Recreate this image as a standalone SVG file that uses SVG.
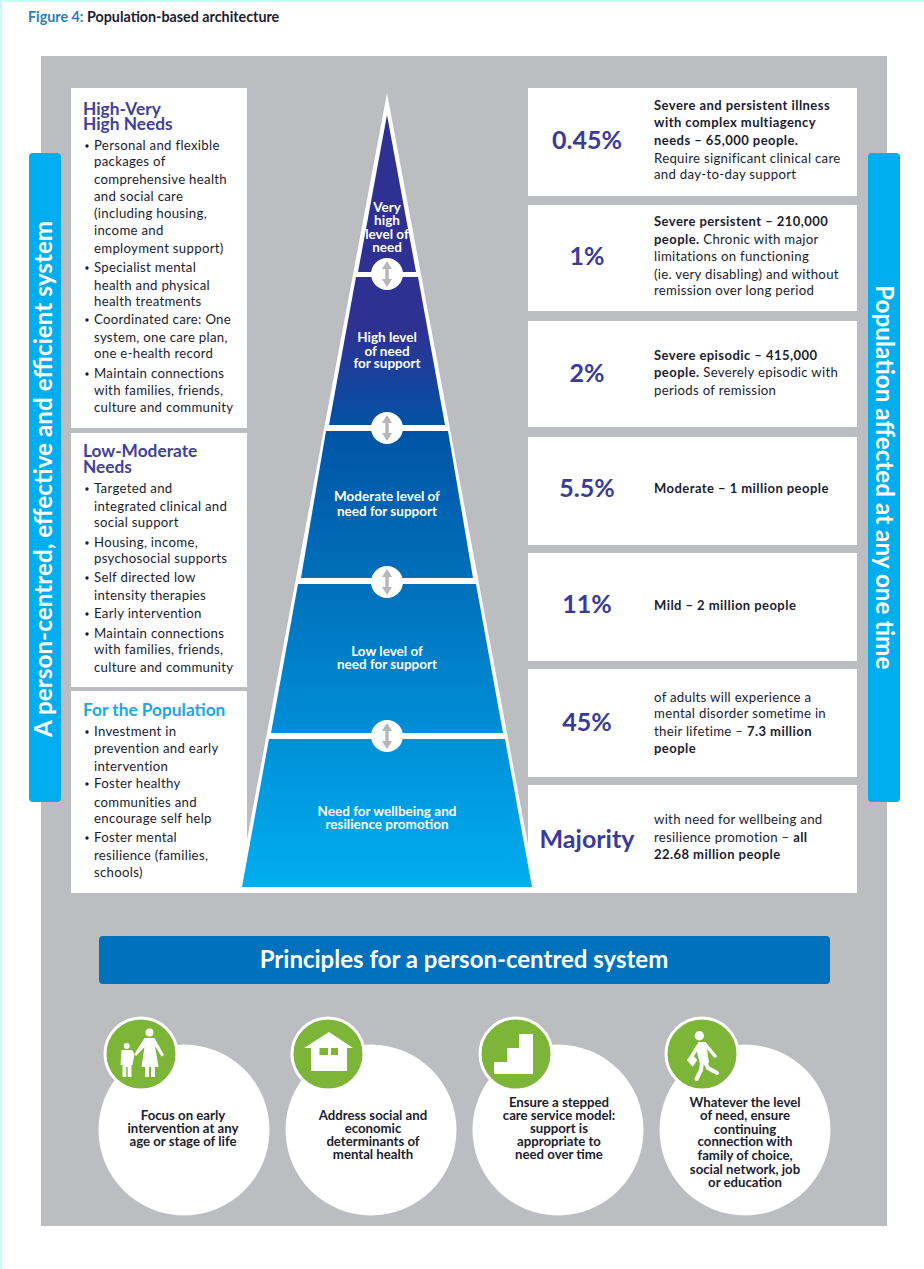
<svg xmlns="http://www.w3.org/2000/svg" width="924" height="1269" viewBox="0 0 924 1269">
<style>
text{font-family:Lato,"Open Sans","Liberation Sans",sans-serif;fill:#1c1c30}
.t{font-size:13.200px;letter-spacing:.3px}
.m{font-size:13px;font-weight:700;letter-spacing:.45px}
.h{font-size:17.300px;fill:#3f3fa0;font-weight:700}
.p{font-size:25px;font-weight:700;fill:#3a3a9c;text-anchor:middle}
.w{fill:#fff;font-size:13.500px;font-weight:700;text-anchor:middle}
.c{font-size:13.200px;font-weight:700;text-anchor:middle}
.bar{fill:#00aeef}
.bt{font-size:24.300px;font-weight:700;fill:#fff}
.card{fill:#fff}
.g{fill:#7db538;stroke:#fff;stroke-width:3}
.i{fill:#fff}
.l{stroke:#fff;stroke-linecap:round;stroke-linejoin:round;fill:none}
.dot{fill:#1c1c30}
.ring{fill:#fff}
.ar{fill:#b5b6b9}
</style>
<defs>
<linearGradient id="pyr" gradientUnits="userSpaceOnUse" x1="0" y1="115" x2="0" y2="887">
<stop offset="0.278" stop-color="#2e3192"/>
<stop offset="0.408" stop-color="#0054a6"/>
<stop offset="0.615" stop-color="#0071bc"/>
<stop offset="0.81" stop-color="#0090d8"/>
<stop offset="1" stop-color="#00aeef"/>
</linearGradient>
<path id="dbl" class="ar" d="M0-13 5-5H1.700V5H5L0 13-5 5H-1.700V-5H-5Z"/>
</defs>
<rect x="0" y="0" width="924" height="1269" fill="#fff"/>
<rect x="0" y="0" width="924" height="2" fill="#c8fafa"/>
<rect x="0" y="0" width="2" height="1269" fill="#c8fafa"/>
<text x="28" y="22" style="font-size:14.300px;font-weight:700"><tspan fill="#2a7db5">Figure 4:</tspan> Population-based architecture</text>
<rect x="41" y="56" width="846" height="1170" fill="#bcbdc0"/>

<g id="left-bar"><rect class="bar" x="29" y="153" width="32" height="649" rx="4"/>
<text class="bt" transform="translate(52,737) rotate(-90)">A person-centred, effective and efficient system</text></g>
<g id="right-bar"><rect class="bar" x="868" y="153" width="32" height="649" rx="4"/>
<text class="bt" transform="translate(876,285) rotate(90)">Population affected at any one time</text></g>

<g id="high-needs"><rect class="card" x="71" y="88" width="176" height="340"/>
<text class="h"><tspan x="83" y="115">High-Very</tspan><tspan x="83" y="130">High Needs</tspan></text>
<circle class="dot" cx="87" cy="146" r="1.700"/><circle class="dot" cx="87" cy="268" r="1.700"/><circle class="dot" cx="87" cy="320" r="1.700"/><circle class="dot" cx="87" cy="374" r="1.700"/>
<text class="t"><tspan x="94" y="149.500">Personal and flexible</tspan><tspan x="94" y="166">packages of</tspan><tspan x="94" y="184">comprehensive health</tspan><tspan x="94" y="200.500">and social care</tspan><tspan x="94" y="218">(including housing,</tspan><tspan x="94" y="235">income and</tspan><tspan x="94" y="252.500">employment support)</tspan><tspan x="94" y="272">Specialist mental</tspan><tspan x="94" y="290">health and physical</tspan><tspan x="94" y="306">health treatments</tspan><tspan x="94" y="324">Coordinated care: One</tspan><tspan x="94" y="342">system, one care plan,</tspan><tspan x="94" y="358">one e-health record</tspan><tspan x="94" y="378">Maintain connections</tspan><tspan x="94" y="395">with families, friends,</tspan><tspan x="94" y="412">culture and community</tspan></text></g>

<g id="low-moderate-needs"><rect class="card" x="71" y="433" width="176" height="254"/>
<text class="h"><tspan x="83" y="457">Low-Moderate</tspan><tspan x="83" y="473">Needs</tspan></text>
<circle class="dot" cx="87" cy="489" r="1.700"/><circle class="dot" cx="87" cy="543" r="1.700"/><circle class="dot" cx="87" cy="578" r="1.700"/><circle class="dot" cx="87" cy="614" r="1.700"/><circle class="dot" cx="87" cy="634" r="1.700"/>
<text class="t"><tspan x="94" y="493">Targeted and</tspan><tspan x="94" y="511">integrated clinical and</tspan><tspan x="94" y="527">social support</tspan><tspan x="94" y="547">Housing, income,</tspan><tspan x="94" y="563">psychosocial supports</tspan><tspan x="94" y="582">Self directed low</tspan><tspan x="94" y="600">intensity therapies</tspan><tspan x="94" y="618">Early intervention</tspan><tspan x="94" y="638">Maintain connections</tspan><tspan x="94" y="654">with families, friends,</tspan><tspan x="94" y="672">culture and community</tspan></text></g>

<g id="for-the-population"><rect class="card" x="71" y="691" width="176" height="202"/>
<text class="h" x="83" y="716" style="fill:#1ea5e8">For the Population</text>
<circle class="dot" cx="87" cy="732" r="1.700"/><circle class="dot" cx="87" cy="784" r="1.700"/><circle class="dot" cx="87" cy="838" r="1.700"/>
<text class="t"><tspan x="94" y="736">Investment in</tspan><tspan x="94" y="753">prevention and early</tspan><tspan x="94" y="771">intervention</tspan><tspan x="94" y="788">Foster healthy</tspan><tspan x="94" y="807">communities and</tspan><tspan x="94" y="823">encourage self help</tspan><tspan x="94" y="842">Foster mental</tspan><tspan x="94" y="860">resilience (families,</tspan><tspan x="94" y="877">schools)</tspan></text></g>

<g id="stat-045"><rect class="card" x="528" y="88" width="329" height="108"/><text class="p" x="587" y="149">0.45%</text>
<text class="t"><tspan class="m" x="654" y="110">Severe and persistent illness</tspan><tspan class="m" x="654" y="127">with complex multiagency</tspan><tspan class="m" x="654" y="145">needs – 65,000 people.</tspan><tspan x="654" y="163">Require significant clinical care</tspan><tspan x="654" y="179">and day-to-day support</tspan></text></g>
<g id="stat-1"><rect class="card" x="528" y="205" width="329" height="106"/><text class="p" x="587" y="265">1%</text>
<text class="t"><tspan class="m" x="654" y="226">Severe persistent – 210,000</tspan><tspan class="m" x="654" y="244">people.</tspan> Chronic with major<tspan x="654" y="261">limitations on functioning</tspan><tspan x="654" y="279">(ie. very disabling) and without</tspan><tspan x="654" y="295">remission over long period</tspan></text></g>
<g id="stat-2"><rect class="card" x="528" y="321" width="329" height="106"/><text class="p" x="587" y="382">2%</text>
<text class="t"><tspan class="m" x="654" y="360">Severe episodic – 415,000</tspan><tspan class="m" x="654" y="377">people.</tspan> Severely episodic with<tspan x="654" y="395">periods of remission</tspan></text></g>
<g id="stat-55"><rect class="card" x="528" y="437" width="329" height="108"/><text class="p" x="587" y="497">5.5%</text>
<text class="m" x="654" y="493">Moderate – 1 million people</text></g>
<g id="stat-11"><rect class="card" x="528" y="553" width="329" height="108"/><text class="p" x="587" y="613">11%</text>
<text class="m" x="654" y="610">Mild – 2 million people</text></g>
<g id="stat-45"><rect class="card" x="528" y="669" width="329" height="108"/><text class="p" x="587" y="731">45%</text>
<text class="t"><tspan x="654" y="702">of adults will experience a</tspan><tspan x="654" y="718">mental disorder sometime in</tspan><tspan x="654" y="736">their lifetime – </tspan><tspan class="m">7.3 million</tspan><tspan class="m" x="654" y="753">people</tspan></text></g>
<g id="stat-majority"><rect class="card" x="528" y="785" width="329" height="108"/><text class="p" x="587" y="848">Majority</text>
<text class="t"><tspan x="654" y="824">with need for wellbeing and</tspan><tspan x="654" y="842">resilience promotion – </tspan><tspan class="m">all</tspan><tspan class="m" x="654" y="859">22.68 million people</tspan></text></g>

<g id="pyramid">
<polygon points="387,93 537,893 237,893" fill="#fff"/>
<g id="level-very-high"><polygon points="387,115 416,272 358,272" fill="url(#pyr)"/>
<text class="w"><tspan x="387" y="212">Very</tspan><tspan x="387" y="225">high</tspan><tspan x="387" y="239">level of</tspan><tspan x="387" y="252">need</tspan></text></g>
<g id="level-high"><polygon points="356,277 418,277 445,425 329,425" fill="url(#pyr)"/>
<text class="w"><tspan x="387" y="342">High level</tspan><tspan x="387" y="356">of need</tspan><tspan x="387" y="368">for support</tspan></text></g>
<g id="level-moderate"><polygon points="326,431 448,431 473,578 301,578" fill="url(#pyr)"/>
<text class="w"><tspan x="387" y="501">Moderate level of</tspan><tspan x="387" y="516">need for support</tspan></text></g>
<g id="level-low"><polygon points="298,584 476,584 503,733 271,733" fill="url(#pyr)"/>
<text class="w"><tspan x="387" y="656">Low level of</tspan><tspan x="387" y="669">need for support</tspan></text></g>
<g id="level-wellbeing"><polygon points="269,739 505,739 532,887 242,887" fill="url(#pyr)"/>
<text class="w"><tspan x="387" y="816">Need for wellbeing and</tspan><tspan x="387" y="829">resilience promotion</tspan></text></g>
</g>

<g id="connectors">
<g transform="translate(387,274)"><circle class="ring" r="16"/><use href="#dbl"/></g>
<g transform="translate(387,428)"><circle class="ring" r="16"/><use href="#dbl"/></g>
<g transform="translate(387,582)"><circle class="ring" r="16"/><use href="#dbl"/></g>
<g transform="translate(387,736)"><circle class="ring" r="16"/><use href="#dbl"/></g>
</g>

<g id="principles-banner"><rect x="99" y="936" width="731" height="48" rx="4" fill="#0071bc"/>
<text x="464" y="968" text-anchor="middle" style="font-size:24px;font-weight:700;fill:#fff">Principles for a person-centred system</text></g>

<g id="principle-early"><circle class="card" cx="184" cy="1130" r="85.500"/>
<circle class="g" cx="141" cy="1054" r="36"/>
<circle class="i" cx="149.500" cy="1032.500" r="4"/>
<path class="i" d="M144.500 1038H154.500L164 1055 161.500 1056.500 155 1046 158.500 1067H155V1077H151V1067H149V1077H145V1067H141.500L144.500 1047 136 1056 134.500 1054Z"/>
<circle class="i" cx="126.700" cy="1046" r="3"/>
<path class="i" d="M121.500 1050H132L134.500 1054 132.500 1065H131.500V1077H127.700V1067H126.200V1077H122.500V1065H120.500Z"/>
<text class="c"><tspan x="183" y="1120">Focus on early</tspan><tspan x="183" y="1133">intervention at any</tspan><tspan x="183" y="1146">age or stage of life</tspan></text></g>

<g id="principle-social"><circle class="card" cx="371" cy="1130" r="85.500"/>
<circle class="g" cx="328" cy="1054" r="36"/>
<path class="i" fill-rule="evenodd" d="M329 1032 353 1048H347V1071H311V1048H304ZM319.500 1048V1055H328V1048ZM331 1048V1055H338V1048Z"/>
<text class="c"><tspan x="373" y="1120">Address social and</tspan><tspan x="373" y="1133">economic</tspan><tspan x="373" y="1146">determinants of</tspan><tspan x="373" y="1159">mental health</tspan></text></g>

<g id="principle-stepped"><circle class="card" cx="558" cy="1130" r="85.500"/>
<circle class="g" cx="516" cy="1054" r="36"/>
<polygon class="i" points="494,1074 494,1062 507,1062 507,1048 519,1048 519,1034 533,1034 533,1074"/>
<text class="c"><tspan x="559" y="1107">Ensure a stepped</tspan><tspan x="559" y="1120">care service model:</tspan><tspan x="559" y="1133">support is</tspan><tspan x="559" y="1146">appropriate to</tspan><tspan x="559" y="1159">need over time</tspan></text></g>

<g id="principle-connection"><circle class="card" cx="745" cy="1130" r="85.500"/>
<circle class="g" cx="702" cy="1054" r="36"/>
<circle class="i" cx="699.300" cy="1035.700" r="4.700"/>
<polygon class="i" points="698,1042 706,1042 709,1063 700,1064 697,1052"/>
<polyline class="l" stroke-width="3.500" points="705,1044 715,1056"/>
<polyline class="l" stroke-width="3.500" points="698,1046 692,1056"/>
<polyline class="l" stroke-width="4" points="705,1062 708,1068 717,1073"/>
<polyline class="l" stroke-width="4" points="702,1062 701,1070 696.500,1079"/>
<polygon class="i" points="686.700,1060 691.700,1054 697.300,1060 692.700,1066.700"/>
<text class="c"><tspan x="745" y="1107">Whatever the level</tspan><tspan x="745" y="1120">of need, ensure</tspan><tspan x="745" y="1134">continuing</tspan><tspan x="745" y="1146">connection with</tspan><tspan x="745" y="1160">family of choice,</tspan><tspan x="745" y="1174">social network, job</tspan><tspan x="745" y="1187">or education</tspan></text></g>
</svg>
